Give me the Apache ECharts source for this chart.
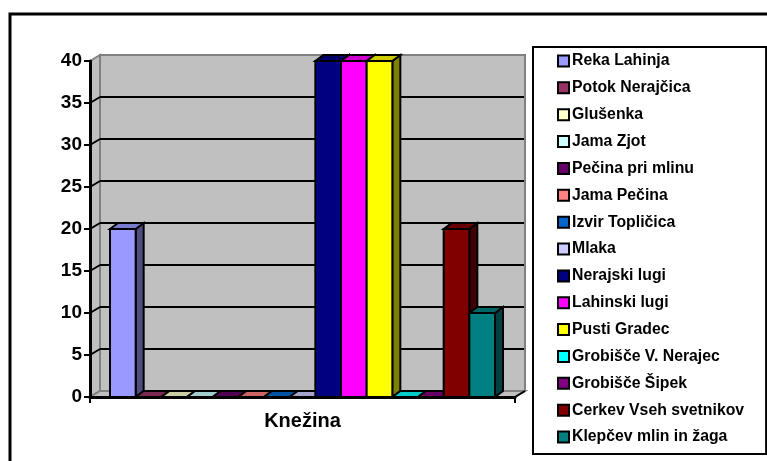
<!DOCTYPE html>
<html>
<head>
<meta charset="utf-8">
<style>
html, body { margin: 0; padding: 0; background: #fff; }
#chart { width: 767px; height: 461px; }
</style>
<script src="https://cdn.jsdelivr.net/npm/echarts@6/dist/echarts.min.js"></script>
</head>
<body>
<div id="chart"></div>
<script>
const categories = ["Knežina"];
const yTicks = [0, 5, 10, 15, 20, 25, 30, 35, 40];
const seriesNames = [
    "Reka Lahinja", "Potok Nerajčica", "Glušenka", "Jama Zjot", "Pečina pri mlinu",
    "Jama Pečina", "Izvir Topličica", "Mlaka", "Nerajski lugi", "Lahinski lugi",
    "Pusti Gradec", "Grobišče V. Nerajec", "Grobišče Šipek", "Cerkev Vseh svetnikov", "Klepčev mlin in žaga"
];
const seriesValues = [20, 0, 0, 0, 0, 0, 0, 0, 40, 40, 40, 0, 0, 20, 10];
const seriesColors = [
    "#9999ff", "#993366", "#ffffcc", "#ccffff", "#660066",
    "#ff8080", "#0066cc", "#ccccff", "#000080", "#ff00ff",
    "#ffff00", "#00ffff", "#800080", "#800000", "#008080"
];

const FONT = '"Liberation Sans", Arial, sans-serif';
const wallDX = 10, wallDY = -6; // depth of the walls
const barDX = 8, barDY = -6; // depth of the bars
const barGap = 20;

function shade(hex, k) {
    const n = parseInt(hex.slice(1), 16);
    const c = [(n >> 16) & 255, (n >> 8) & 255, n & 255].map((v) => Math.round(v * k));
    return "rgb(" + c.join(",") + ")";
}

function poly(points, fill, stroke, width) {
    return {
        type: "polygon",
        shape: { points: points },
        style: { fill: fill, stroke: stroke, lineWidth: width },
    };
}

function line(x1, y1, x2, y2, stroke, width) {
    return {
        type: "line",
        shape: { x1: x1, y1: y1, x2: x2, y2: y2 },
        style: { stroke: stroke, lineWidth: width },
    };
}

// back wall, side wall, floor and grid lines
function renderWalls(params, api) {
    const band = api.size([1, 0])[0];
    const cx = api.coord([0, 0])[0];
    const left = cx - band / 2;
    const right = cx + band / 2;
    const y0 = api.coord([0, 0])[1];
    const yTop = api.coord([0, 40])[1];
    const children = [
        poly([[left + wallDX, yTop + wallDY], [right + wallDX, yTop + wallDY], [right + wallDX, y0 + wallDY], [left + wallDX, y0 + wallDY]], "#c0c0c0", "#808080", 2),
        poly([[left, yTop], [left + wallDX, yTop + wallDY], [left + wallDX, y0 + wallDY], [left, y0]], "#c0c0c0", "#808080", 2),
        poly([[left, y0], [left + wallDX, y0 + wallDY], [right + wallDX, y0 + wallDY], [right, y0]], "#c0c0c0", "#808080", 2),
        line(right, y0, right + wallDX, y0 + wallDY, "#000", 2),
    ];
    yTicks.forEach((t) => {
        if (t === 0 || t === 40) return;
        const y = api.coord([0, t])[1];
        children.push(line(left + wallDX, y + wallDY, right + wallDX - 1, y + wallDY, "#000", 2));
        children.push(line(left, y, left + wallDX, y + wallDY, "#000", 2));
    });
    return { type: "group", children: children };
}

function renderBar(index) {
    return function (params, api) {
        const band = api.size([1, 0])[0];
        const left = api.coord([0, 0])[0] - band / 2 + barGap;
        const w = (band - barGap * 2) / seriesValues.length;
        const x0 = left + index * w;
        const x1 = x0 + w;
        const y0 = api.coord([0, 0])[1];
        const y1 = api.coord([api.value(0), api.value(1)])[1];
        const color = seriesColors[index];
        return {
            type: "group",
            children: [
                poly([[x1, y1], [x1 + barDX, y1 + barDY], [x1 + barDX, y0 + barDY], [x1, y0]], shade(color, 0.5), "#000", 2),
                poly([[x0, y1], [x0 + barDX, y1 + barDY], [x1 + barDX, y1 + barDY], [x1, y1]], shade(color, 0.8), "#000", 2),
                poly([[x0, y1], [x1, y1], [x1, y0], [x0, y0]], color, "#000", 2),
            ],
        };
    };
}

const series = [{
    type: "custom",
    name: "walls",
    renderItem: renderWalls,
    data: [[0, 0]],
    encode: { x: 0, y: 1 },
    clip: false,
    silent: true,
    z: 1,
}];
seriesNames.forEach((name, i) => {
    series.push({
        type: "custom",
        name: name,
        renderItem: renderBar(i),
        data: [[0, seriesValues[i]]],
        encode: { x: 0, y: 1 },
        itemStyle: { color: seriesColors[i] },
        clip: false,
        z: 2,
    });
});

const chart = echarts.init(document.getElementById("chart"));
chart.setOption({
    animation: false,
    backgroundColor: "#fff",
    textStyle: { fontFamily: FONT },
    grid: { left: 90, right: 252, top: 61, bottom: 64 },
    graphic: [{
        type: "polyline",
        shape: { points: [[10, 461], [10, 14], [767, 14]] },
        style: { fill: null, stroke: "#000", lineWidth: 3 },
    }],
    legend: {
        data: seriesNames,
        orient: "vertical",
        left: 533,
        top: 47,
        padding: [6, 22, 9, 24],
        icon: "rect",
        itemWidth: 11,
        itemHeight: 11,
        itemGap: 10.86,
        borderColor: "#000",
        borderWidth: 2,
        backgroundColor: "#fff",
        itemStyle: { borderColor: "#000", borderWidth: 2 },
        textStyle: { fontFamily: FONT, fontSize: 15.8, fontWeight: "bold", color: "#000", lineHeight: 16, padding: [0, 0, 0, -2] },
    },
    xAxis: {
        type: "category",
        data: categories,
        z: 10,
        axisLine: { lineStyle: { color: "#000", width: 3 } },
        axisTick: { show: true, length: 6, lineStyle: { color: "#000", width: 2 } },
        axisLabel: { fontFamily: FONT, fontSize: 20, fontWeight: "bold", color: "#000", margin: 14 },
    },
    yAxis: {
        type: "value",
        min: 0,
        max: 40,
        interval: 5,
        z: 10,
        splitLine: { show: false },
        axisLine: { show: true, lineStyle: { color: "#000", width: 3 } },
        axisTick: { show: true, length: 6, lineStyle: { color: "#000", width: 2 } },
        axisLabel: { fontFamily: FONT, fontSize: 19, fontWeight: "bold", color: "#000", margin: 8 },
    },
    series: series,
});
</script>
</body>
</html>
